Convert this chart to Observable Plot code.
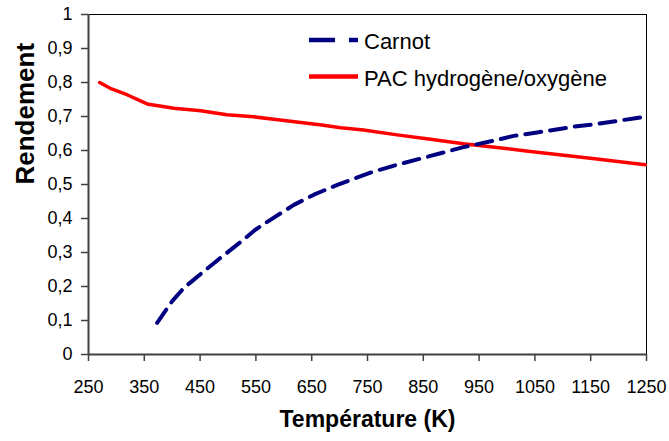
<!DOCTYPE html>
<html><head><meta charset="utf-8">
<script src="https://cdn.jsdelivr.net/npm/d3@7"></script>
<script src="https://cdn.jsdelivr.net/npm/@observablehq/plot@0.6"></script>
<style>
body{margin:0;background:#fff;font-family:"Liberation Sans",Arial,sans-serif;}
#wrap{position:relative;width:669px;height:441px;}
#legend{position:absolute;left:0;top:0;}
</style>
</head><body>
<div id="wrap"></div>
<script>
const xTicks = [250,350,450,550,650,750,850,950,1050,1150,1250];
const yTicks = [0,0.1,0.2,0.3,0.4,0.5,0.6,0.7,0.8,0.9,1];
const seriesNames = ["Carnot","PAC hydrogène/oxygène"];
const carnotT = [373,400,421,457,484,522,549,576,618,654,696,761,803,863,922,982,1012,1054,1120,1161,1230,1250];
const carnotR = [0.093,0.157,0.196,0.245,0.281,0.330,0.367,0.396,0.440,0.470,0.499,0.538,0.558,0.584,0.610,0.631,0.643,0.653,0.670,0.678,0.695,0.700];
const pacT = [270,289,319,355,403,451,498,546,582,668,702,743,803,863,922,982,1042,1102,1161,1221,1248];
const pacR = [0.800,0.783,0.764,0.737,0.724,0.717,0.705,0.699,0.692,0.675,0.667,0.660,0.646,0.633,0.620,0.609,0.597,0.586,0.575,0.563,0.558];

const carnot = carnotT.map((t,i)=>({T:t,R:carnotR[i]}));
const pac = pacT.map((t,i)=>({T:t,R:pacR[i]}));
const fmt = d => String(+d.toFixed(1)).replace(".",",");

const chart = Plot.plot({
  width:669, height:441,
  marginLeft:88, marginRight:23, marginTop:14, marginBottom:87,
  style:{fontFamily:"'Liberation Sans',Arial,sans-serif", fontSize:"18px", color:"#000", background:"#fff"},
  x:{domain:[250,1250], ticks:xTicks, label:null},
  y:{domain:[0,1], ticks:yTicks, label:null},
  marks:[
    Plot.frame({stroke:"#000", strokeWidth:1}),
    Plot.axisX({ticks:xTicks, tickSize:7, tickPadding:19, tickFormat:d=>String(d), stroke:"#404040", strokeWidth:1.5, fontSize:18, label:null}),
    Plot.axisY({ticks:yTicks, tickSize:7, tickPadding:9, tickFormat:fmt, stroke:"#404040", strokeWidth:1.5, fontSize:18, label:null}),
    Plot.ruleX([250], {stroke:"#404040", strokeWidth:2}),
    Plot.ruleY([0], {stroke:"#404040", strokeWidth:2}),
    Plot.line(pac, {x:"T", y:"R", stroke:"#ff0000", strokeWidth:3.5}),
    Plot.line(carnot, {x:"T", y:"R", stroke:"#000080", strokeWidth:4, strokeDasharray:"16,9"}),
    Plot.text(["Rendement"], {frameAnchor:"left", dx:-63, rotate:-90, fontSize:26, fontWeight:"bold", text:d=>d}),
    Plot.text(["Température (K)"], {frameAnchor:"bottom", dy:72, fontSize:23, fontWeight:"bold", text:d=>d})
  ]
});
document.getElementById("wrap").appendChild(chart);

// legend overlay
const leg = d3.select("#wrap").append("svg").attr("id","legend").attr("width",669).attr("height",441);
const legStyles = [{stroke:"#000080", dash:"26,14", w:4.5},{stroke:"#ff0000", dash:null, w:4.5}];
seriesNames.forEach((name,i)=>{
  const y = 40 + i*36.5;
  const l = leg.append("line").attr("x1",309).attr("x2",358).attr("y1",y).attr("y2",y)
    .attr("stroke",legStyles[i].stroke).attr("stroke-width",legStyles[i].w);
  if (legStyles[i].dash) l.attr("stroke-dasharray",legStyles[i].dash);
  leg.append("text").attr("x",364).attr("y",y + 1.5).attr("dy","0.36em")
    .attr("font-family","'Liberation Sans',Arial,sans-serif").attr("font-size",22).text(name);
});
</script>
</body></html>
